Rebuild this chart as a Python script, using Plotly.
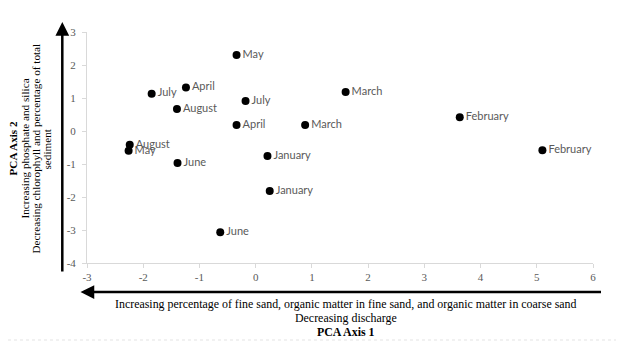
import plotly.graph_objects as go

# Data (PCA scores)
months = ["May", "April", "July", "August", "July", "April", "March", "March",
          "February", "February", "August", "May", "June", "January", "January", "June"]
pca1 = [-0.34, -1.24, -1.85, -1.40, -0.18, -0.34, 1.60, 0.88,
        3.63, 5.10, -2.24, -2.26, -1.39, 0.21, 0.25, -0.63]
pca2 = [2.30, 1.32, 1.13, 0.67, 0.91, 0.18, 1.18, 0.18,
        0.42, -0.58, -0.42, -0.60, -0.97, -0.76, -1.82, -3.07]

x_ticks = [-3, -2, -1, 0, 1, 2, 3, 4, 5, 6]
y_ticks = [-4, -3, -2, -1, 0, 1, 2, 3]

x_title_lines = [
    "Increasing percentage of fine sand, organic matter in fine sand, and organic matter in coarse sand",
    "Decreasing discharge",
    "<b>PCA Axis 1</b>",
]
y_title_lines = [
    "<b>PCA Axis 2</b>",
    "Increasing phosphate and silica",
    "Decreasing chlorophyll and percentage of total",
    "sediment",
]

SERIF = "Liberation Serif"
OFF = 8  # page body margin of the HTML page
W, H = 624 - OFF, 344 - OFF
# plot area in window pixels: x 87..593, y 32..263
ML, MT = 87 - OFF, 32 - OFF
MR, MB = W - (593 - OFF), H - (263 - OFF)
PW = W - ML - MR
PH = H - MT - MB


def px_to_paper_x(px):
    return (px - OFF - ML) / PW


def px_to_paper_y(py):
    return (H - MB - (py - OFF)) / PH


fig = go.Figure()
fig.add_trace(go.Scatter(
    x=pca1, y=pca2, mode="markers+text", text=months,
    textposition="middle right",
    textfont=dict(family="Lato", size=11, color="#595959"),
    marker=dict(color="black", size=8),
    showlegend=False, cliponaxis=False,
))

annotations = []
# x-axis title lines
for line, py in zip(x_title_lines, [304, 318, 332]):
    annotations.append(dict(
        text=line, xref="paper", yref="paper",
        x=px_to_paper_x(346), y=px_to_paper_y(py),
        xanchor="center", yanchor="middle", showarrow=False,
        font=dict(family=SERIF, size=11.9, color="black"),
    ))
# y-axis title lines (rotated)
for line, pxx in zip(y_title_lines, [12.5, 24.5, 35.5, 46.5]):
    annotations.append(dict(
        text=line, xref="paper", yref="paper",
        x=px_to_paper_x(pxx), y=px_to_paper_y(149),
        xanchor="center", yanchor="middle", showarrow=False, textangle=-90,
        font=dict(family=SERIF, size=11.2, color="black"),
    ))
# vertical arrow (up)
annotations.append(dict(
    text="", xref="paper", yref="paper",
    x=px_to_paper_x(62.3), y=px_to_paper_y(22),
    ax=0, ay=251, axref="pixel", ayref="pixel",
    showarrow=True, arrowhead=2, arrowsize=1.1, arrowwidth=2.5, arrowcolor="black",
))
# horizontal arrow (left)
annotations.append(dict(
    text="", xref="paper", yref="paper",
    x=px_to_paper_x(80.5), y=px_to_paper_y(292),
    ax=522, ay=0, axref="pixel", ayref="pixel",
    showarrow=True, arrowhead=2, arrowsize=1.1, arrowwidth=2.5, arrowcolor="black",
))

fig.update_layout(
    width=W, height=H,
    margin=dict(l=ML, r=MR, t=MT, b=MB),
    paper_bgcolor="white", plot_bgcolor="white",
    annotations=annotations,
    shapes=[dict(type="line", xref="paper", yref="paper",
                 x0=px_to_paper_x(8), x1=px_to_paper_x(616),
                 y0=px_to_paper_y(340), y1=px_to_paper_y(340),
                 line=dict(color="#e3e3e3", width=1, dash="dot"))],
)
fig.update_xaxes(
    range=[-3, 6], tickvals=x_ticks, ticktext=[str(v) for v in x_ticks],
    showgrid=False, zeroline=False, showline=True, linecolor="#d9d9d9", linewidth=1,
    ticks="outside", ticklen=4, tickcolor="#d9d9d9",
    tickfont=dict(family=SERIF, size=11, color="#595959"),
)
fig.update_yaxes(
    range=[-4, 3], tickvals=y_ticks, ticktext=[str(v) for v in y_ticks],
    showgrid=False, zeroline=False, showline=True, linecolor="#d9d9d9", linewidth=1,
    ticks="outside", ticklen=4, tickcolor="#d9d9d9", ticklabelstandoff=4,
    tickfont=dict(family=SERIF, size=11, color="#595959"),
)

fig.write_html("out.html")
